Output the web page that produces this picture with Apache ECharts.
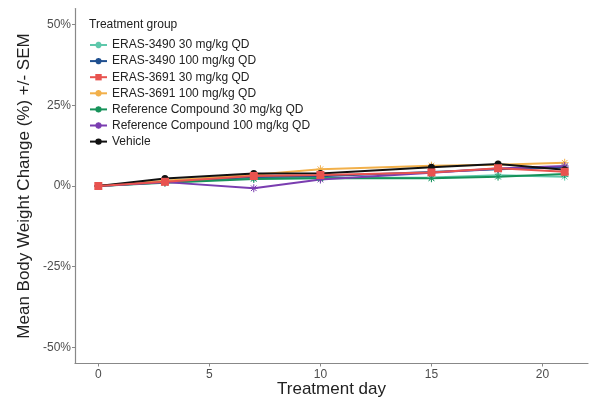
<!DOCTYPE html>
<html>
<head>
<meta charset="utf-8">
<script src="https://cdn.jsdelivr.net/npm/echarts@6/dist/echarts.min.js"></script>
<style>
  html, body { margin: 0; padding: 0; background: #fff; }
  #chart { width: 605px; height: 399px; }
</style>
</head>
<body>
<div id="chart"></div>
<script>
// Treatment days at which body weight was measured
const days = [0, 3, 7, 10, 15, 18, 21];

// Mean body weight change (%) per treatment group
const eras3490_30  = [0, 1.2, 2.4, 2.5, 2.6, 3.3, 2.9];
const eras3490_100 = [0, 1.3, 2.8, 3.0, 4.3, 5.2, 5.8];
const eras3691_30  = [0, 1.3, 3.1, 3.4, 4.2, 5.5, 4.4];
const eras3691_100 = [0, 1.6, 3.5, 5.2, 6.3, 6.6, 7.2];
const ref_30       = [0, 1.0, 2.2, 2.4, 2.4, 2.9, 3.7];
const ref_100      = [0, 1.2, -0.7, 2.0, 4.1, 5.4, 6.2];
const vehicle      = [0, 2.3, 3.9, 3.9, 5.8, 6.8, 5.0];

const xTicks = [0, 5, 10, 15, 20];
const yTicks = [-50, -25, 0, 25, 50];

const groupNames = [
  'ERAS-3490 30 mg/kg QD',
  'ERAS-3490 100 mg/kg QD',
  'ERAS-3691 30 mg/kg QD',
  'ERAS-3691 100 mg/kg QD',
  'Reference Compound 30 mg/kg QD',
  'Reference Compound 100 mg/kg QD',
  'Vehicle'
];
const groupValues = [eras3490_30, eras3490_100, eras3691_30, eras3691_100, ref_30, ref_100, vehicle];
const groupColors = ['#5ec8ab', '#1f4f8f', '#e8534f', '#f2b04a', '#16925a', '#7a3db0', '#111111'];

// asterisk-like marker
const star = 'path://M5,0 L5,10 M0,5 L10,5 M1.5,1.5 L8.5,8.5 M8.5,1.5 L1.5,8.5';
const symbols = [star, star, 'rect', star, star, star, 'circle'];
const symbolSizes = [8, 8, 8, 8, 8, 8, 7];

const series = groupNames.map((name, i) => ({
  name: name,
  type: 'line',
  data: days.map((d, j) => [d, groupValues[i][j]]),
  symbol: symbols[i],
  symbolSize: symbolSizes[i],
  lineStyle: { width: 2, color: groupColors[i] },
  itemStyle: { color: groupColors[i], borderColor: groupColors[i], borderWidth: symbols[i] === star ? 1 : 0 },
  z: i === 2 ? 5 : 2
}));

const chart = echarts.init(document.getElementById('chart'), null, { renderer: 'canvas' });
chart.setOption({
  animation: false,
  backgroundColor: '#ffffff',
  textStyle: { fontFamily: 'Liberation Sans, Arial, sans-serif' },
  title: {
    text: 'Treatment group',
    left: 84, top: 14,
    textStyle: { fontSize: 12, fontWeight: 'normal', color: '#222', fontFamily: 'Liberation Sans, Arial, sans-serif' }
  },
  legend: {
    orient: 'vertical',
    left: 84, top: 34,
    itemWidth: 17, itemHeight: 8, itemGap: 4.1,
    textStyle: { fontSize: 12, color: '#222', padding: [0, 0, 0, 0] },
    data: groupNames
  },
  grid: { left: 75, right: 17, top: 8.5, bottom: 35.5, containLabel: false, outerBoundsMode: 'none' },
  xAxis: {
    type: 'value',
    min: -1.05, max: 22.05,
    name: 'Treatment day',
    nameLocation: 'middle',
    nameGap: 17,
    nameMoveOverlap: false,
    nameTextStyle: { fontSize: 17, color: '#222' },
    splitLine: { show: false },
    axisLine: { show: true, onZero: false, lineStyle: { color: '#888', width: 1.2 } },
    axisTick: { show: true, length: 3, customValues: xTicks, lineStyle: { color: '#888' } },
    axisLabel: { customValues: xTicks, fontSize: 12, color: '#4d4d4d', margin: 5 }
  },
  yAxis: {
    type: 'value',
    min: -55, max: 55,
    name: 'Mean Body Weight Change (%) +/- SEM',
    nameLocation: 'middle',
    nameGap: 42,
    nameMoveOverlap: false,
    nameTextStyle: { fontSize: 17, color: '#222' },
    splitLine: { show: false },
    axisLine: { show: true, onZero: false, lineStyle: { color: '#888', width: 1.2 } },
    axisTick: { show: true, length: 3, customValues: yTicks, lineStyle: { color: '#888' } },
    axisLabel: { customValues: yTicks, fontSize: 12, color: '#4d4d4d', margin: 4, formatter: '{value}%' }
  },
  series: series
});
</script>
</body>
</html>
